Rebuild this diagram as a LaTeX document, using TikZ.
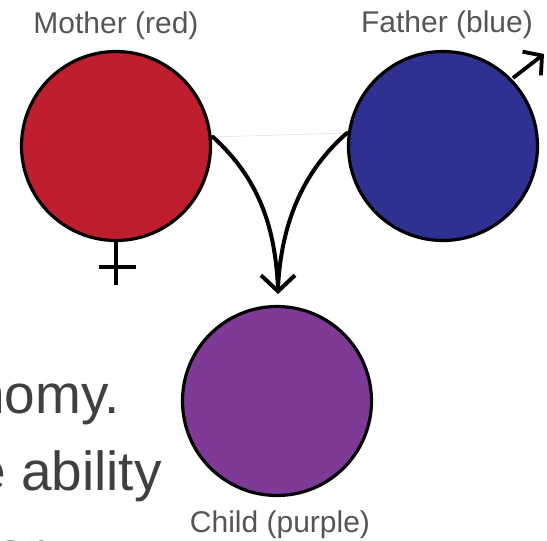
\documentclass[tikz,border=0pt]{standalone}
\usepackage{fontspec}
\setmainfont{Liberation Sans}
\usetikzlibrary{arrows.meta,positioning}
\definecolor{motherred}{HTML}{BE1E2D}
\definecolor{fatherblue}{HTML}{2E3192}
\definecolor{childpurple}{HTML}{7F3A98}
\definecolor{labelgray}{HTML}{555555}
\definecolor{slidegray}{HTML}{404040}
\begin{document}
\begin{tikzpicture}[
    x=1pt, y=-1pt,
    parent/.style={circle, draw=black, line width=3.2pt, minimum size=189pt, inner sep=0pt},
    caption/.style={font=\fontsize{30}{34}\selectfont, text=labelgray, inner sep=0pt, anchor=base},
    slide/.style={font=\fontsize{55}{60}\selectfont, text=slidegray, inner sep=0pt, anchor=base east},
    curve/.style={line width=4pt, line cap=round},
    sign/.style={line width=3.8pt}
]
    \useasboundingbox (0,0) rectangle (547,541);
    \clip (0,0) rectangle (547,541);

    % Slide text behind the picture
    \node[slide] (line1) at (120,413) {nomy.};
    \node[slide] (line2) at (162,490) {e ability};
    \node[slide] (line3) at (45,570) {or};

    % Circles
    \node[parent, fill=motherred] (mother) at (116,146) {};
    \node[parent, fill=fatherblue] (father) at (443,146) {};
    \node[parent, fill=childpurple] (child) at (277,401) {};

    % Labels
    \node[caption] (motherlabel) at (116,33) {Mother (red)};
    \node[caption] (fatherlabel) at (447,32) {Father (blue)};
    \node[caption] (childlabel) at (280,532) {Child (purple)};

    % Female sign
    \coordinate (crossbottom) at (116,285);
    \coordinate (crossleft) at (99,267);
    \coordinate (crossright) at (136,267);
    \draw[sign] (mother.south) -- (crossbottom);
    \draw[sign] (crossleft) -- (crossright);

    % Male sign
    \coordinate (malestart) at (513,78);
    \coordinate (maletip) at (544,54);
    \draw[sign, -{Straight Barb[length=13pt, width=30pt, line width=3.8pt]}] (malestart) -- (maletip);

    % Arrows
    \coordinate (leftend) at (213,137);
    \coordinate (rightend) at (347,133);
    \coordinate (join) at (278,288);
    \coordinate (tip) at (278,294);
    \coordinate (shaft) at (278,265);
    \draw[black!12, line width=0.6pt] (leftend) -- (rightend);
    \draw[curve] (leftend) .. controls (258,178) and (275,225) .. (join);
    \draw[curve] (rightend) .. controls (302,172) and (281,225) .. (join);
    \draw[curve, -{Straight Barb[length=16pt, width=34pt, line width=4pt]}] (shaft) -- (tip);
\end{tikzpicture}
\end{document}
